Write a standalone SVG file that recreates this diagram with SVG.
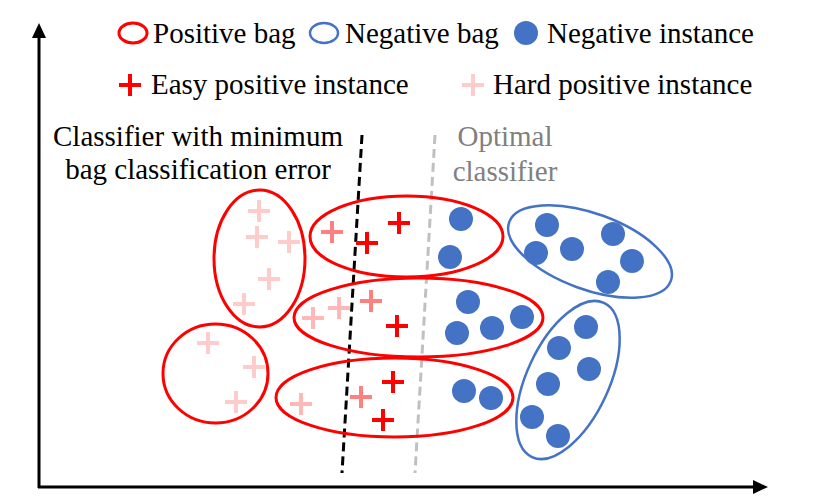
<svg xmlns="http://www.w3.org/2000/svg" width="831" height="499" viewBox="0 0 831 499">
<style>
text{font-family:"Liberation Serif","Times New Roman",serif;font-size:29px;fill:#000}
.gray{fill:#808080}
.pb{fill:none;stroke:#ff0000;stroke-width:3}
.nb{fill:none;stroke:#4472c4;stroke-width:2.5}
.ni{fill:#4472c4}
.p1{stroke:#ff0000;stroke-width:4;fill:none}
.p2{stroke:#ff8080;stroke-width:4;fill:none}
.p3{stroke:#ffb8b8;stroke-width:4;fill:none}
.p4{stroke:#ffcccc;stroke-width:4;fill:none}
</style>
<defs>
<path id="plus" d="M-11,0H11M0,-11V11"/>
</defs>
<rect width="831" height="499" fill="#fff"/>
<g id="axes">
<line x1="39" y1="488" x2="39" y2="36" stroke="#000" stroke-width="3"/>
<polygon points="39,23 32,38 46,38" fill="#000"/>
<line x1="38" y1="487" x2="755" y2="487" stroke="#000" stroke-width="3"/>
<polygon points="768,487 753,480 753,494" fill="#000"/>
</g>
<g id="legend">
<ellipse class="pb" cx="133" cy="33" rx="14" ry="10"/>
<text x="153" y="43">Positive bag</text>
<ellipse class="nb" cx="324" cy="33" rx="14" ry="10"/>
<text x="345" y="43">Negative bag</text>
<circle class="ni" cx="526" cy="33" r="12"/>
<text x="547" y="43">Negative instance</text>
<use href="#plus" class="p1" x="130" y="85"/>
<text x="151" y="94">Easy positive instance</text>
<use href="#plus" class="p4" x="473" y="85"/>
<text x="493" y="94">Hard positive instance</text>
</g>
<g id="labels">
<text x="198" y="146" text-anchor="middle">Classifier with minimum</text>
<text x="198" y="179" text-anchor="middle">bag classification error</text>
<text class="gray" x="505" y="146" text-anchor="middle">Optimal</text>
<text class="gray" x="505" y="181" text-anchor="middle">classifier</text>
</g>
<g id="connectors">
<line x1="362" y1="135" x2="342" y2="473" stroke="#000" stroke-width="3" stroke-dasharray="9,5"/>
<line x1="435" y1="135" x2="415" y2="473" stroke="#c0c0c0" stroke-width="3" stroke-dasharray="9,5"/>
</g>
<g id="bag-p1">
<ellipse class="pb" cx="259.5" cy="258.5" rx="45.5" ry="68.5"/>
<use href="#plus" class="p4" x="259" y="211"/>
<use href="#plus" class="p4" x="257" y="237"/>
<use href="#plus" class="p4" x="289" y="242"/>
<use href="#plus" class="p4" x="269" y="279"/>
<use href="#plus" class="p4" x="244" y="304"/>
</g>
<g id="bag-p2">
<ellipse class="pb" cx="215.5" cy="373.5" rx="52.5" ry="49.5"/>
<use href="#plus" class="p4" x="208" y="343"/>
<use href="#plus" class="p4" x="254" y="367"/>
<use href="#plus" class="p4" x="236" y="402"/>
</g>
<g id="bag-p3">
<ellipse class="pb" cx="406.5" cy="236.5" rx="96.5" ry="40.5"/>
<use href="#plus" class="p2" x="332" y="232"/>
<use href="#plus" class="p1" x="367" y="243"/>
<use href="#plus" class="p1" x="399" y="223"/>
<circle class="ni" cx="461" cy="219" r="12"/>
<circle class="ni" cx="450" cy="257" r="12"/>
</g>
<g id="bag-p4">
<ellipse class="pb" cx="418.5" cy="317.5" rx="124.5" ry="39.5"/>
<use href="#plus" class="p3" x="313" y="318"/>
<use href="#plus" class="p3" x="339" y="308"/>
<use href="#plus" class="p2" x="371" y="301"/>
<use href="#plus" class="p1" x="397" y="326"/>
<circle class="ni" cx="468" cy="302" r="12"/>
<circle class="ni" cx="457" cy="333" r="12"/>
<circle class="ni" cx="492" cy="328" r="12"/>
<circle class="ni" cx="522" cy="317" r="12"/>
</g>
<g id="bag-p5">
<ellipse class="pb" cx="394.5" cy="397.5" rx="118.5" ry="39.5"/>
<use href="#plus" class="p3" x="301" y="404"/>
<use href="#plus" class="p2" x="361" y="397"/>
<use href="#plus" class="p1" x="393" y="382"/>
<use href="#plus" class="p1" x="383" y="420"/>
<circle class="ni" cx="464" cy="391" r="12"/>
<circle class="ni" cx="491" cy="398" r="12"/>
</g>
<g id="bag-n1">
<ellipse class="nb" cx="590" cy="251.5" rx="86" ry="38" transform="rotate(20 590 251.5)"/>
<circle class="ni" cx="547" cy="225" r="12"/>
<circle class="ni" cx="536" cy="253" r="12"/>
<circle class="ni" cx="572" cy="249" r="12"/>
<circle class="ni" cx="613" cy="234" r="12"/>
<circle class="ni" cx="632" cy="261" r="12"/>
<circle class="ni" cx="608" cy="282" r="12"/>
</g>
<g id="bag-n2">
<ellipse class="nb" cx="568" cy="380" rx="41" ry="85" transform="rotate(25 568 380)"/>
<circle class="ni" cx="586" cy="327" r="12"/>
<circle class="ni" cx="559" cy="348" r="12"/>
<circle class="ni" cx="589" cy="369" r="12"/>
<circle class="ni" cx="548" cy="384" r="12"/>
<circle class="ni" cx="532" cy="417" r="12"/>
<circle class="ni" cx="558" cy="436" r="12"/>
</g>
</svg>
